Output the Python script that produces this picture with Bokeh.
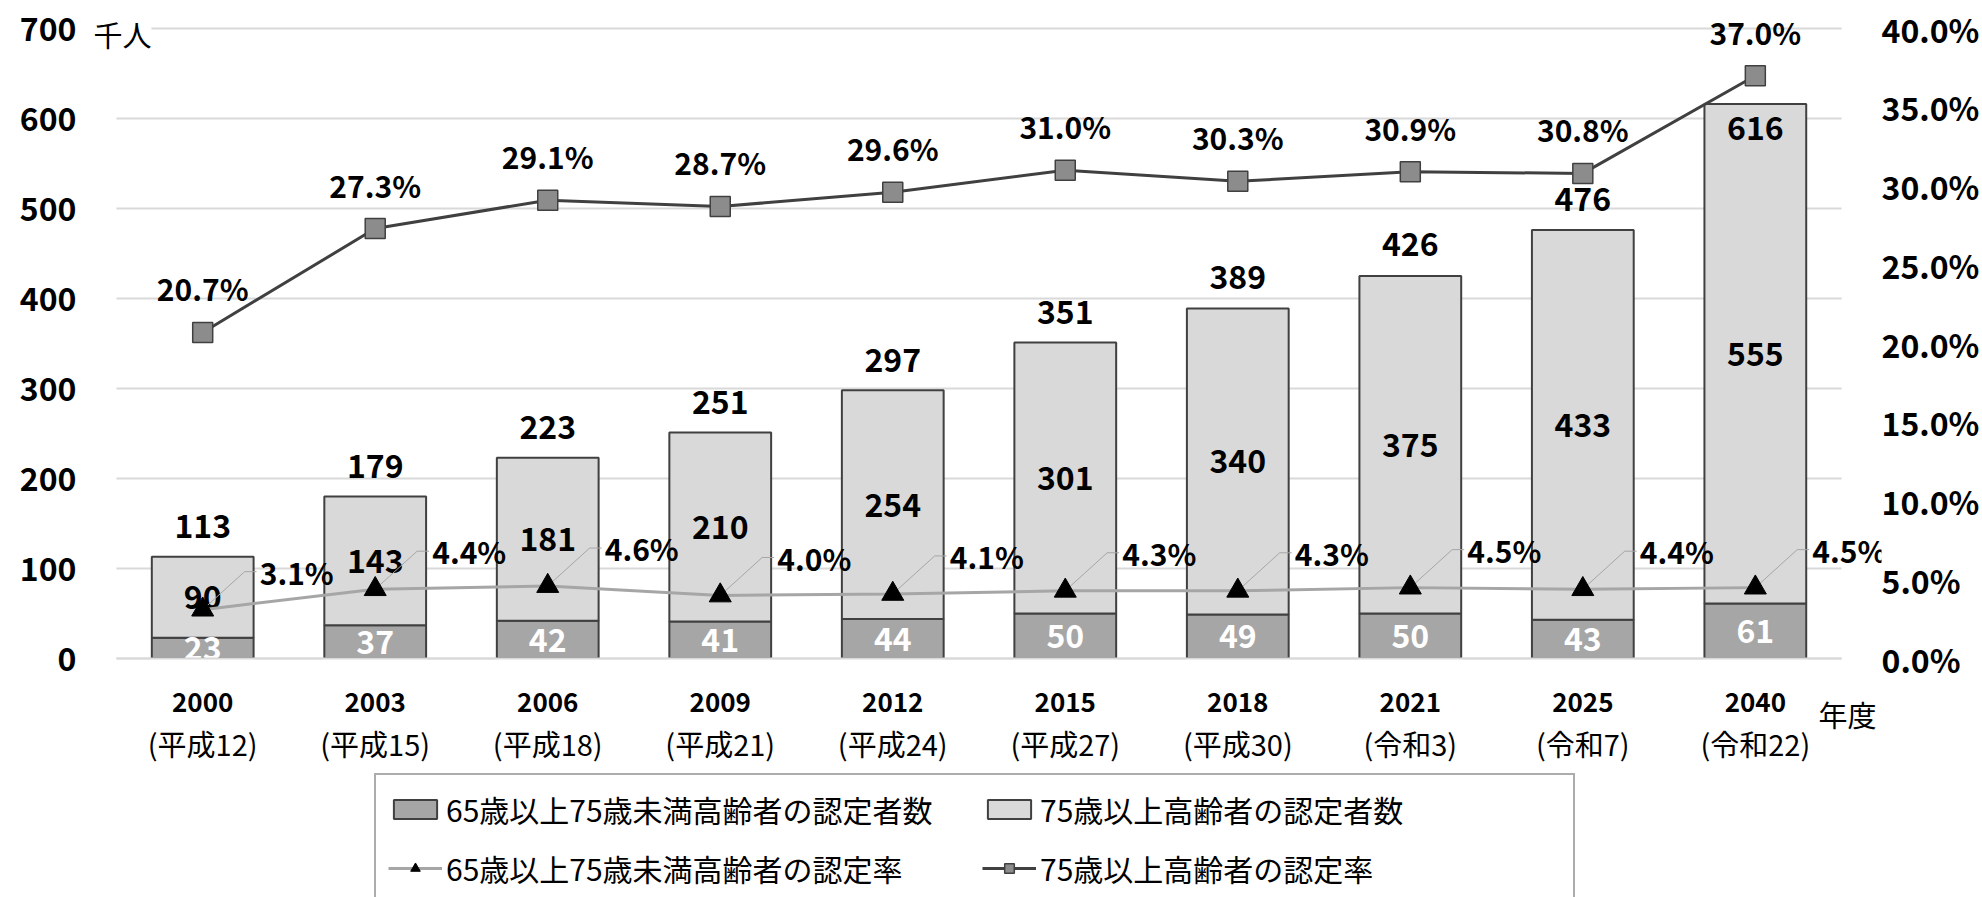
from bokeh.plotting import figure
from bokeh.models import (Range1d, LinearAxis, FixedTicker, PrintfTickFormatter, ColumnDataSource,
                          LabelSet, Label, Legend, LegendItem)
from bokeh.core.properties import value
from bokeh.embed import file_html
from bokeh.resources import INLINE

# ---------------- data ----------------
years = ["2000", "2003", "2006", "2009", "2012", "2015", "2018", "2021", "2025", "2040"]
eras = ["(平成12)", "(平成15)", "(平成18)", "(平成21)", "(平成24)", "(平成27)", "(平成30)",
        "(令和3)", "(令和7)", "(令和22)"]
young_counts = [23, 37, 42, 41, 44, 50, 49, 50, 43, 61]          # 65-74歳 認定者数 (千人)
old_counts = [90, 143, 181, 210, 254, 301, 340, 375, 433, 555]    # 75歳以上 認定者数 (千人)
total_counts = [113, 179, 223, 251, 297, 351, 389, 426, 476, 616]
young_rate = [3.1, 4.4, 4.6, 4.0, 4.1, 4.3, 4.3, 4.5, 4.4, 4.5]   # %
old_rate = [20.7, 27.3, 29.1, 28.7, 29.6, 31.0, 30.3, 30.9, 30.8, 37.0]  # %
series_names = ["65歳以上75歳未満高齢者の認定者数", "75歳以上高齢者の認定者数",
                "65歳以上75歳未満高齢者の認定率", "75歳以上高齢者の認定率"]
left_ticks = [0, 100, 200, 300, 400, 500, 600, 700]
right_ticks = [0, 5, 10, 15, 20, 25, 30, 35, 40]
unit_left = "千人"
unit_x = "年度"
Y_MAX, PCT_MAX = 700, 40

# ---------------- layout (pixels) ----------------
W, H = 1982, 897
FRAME_L, FRAME_R = 90, 1885           # drawing frame (whole height)
PLOT_L, PLOT_R = 116, 1845            # category area
PLOT_T, PLOT_B = 28, 658              # y = 700 / y = 0
FONT = "Noto Sans CJK JP"
TOTAL_OFF = 31                        # total label above bar top (px)
RATE_OFF = 44                         # rate label above marker (px)

n = len(years)
xs = list(range(n))
ppx = (PLOT_R - PLOT_L) / n
ppy = (PLOT_B - PLOT_T) / Y_MAX
k = PCT_MAX / Y_MAX

x_lo = -0.5 - (PLOT_L - FRAME_L) / ppx
x_hi = n - 0.5 + (FRAME_R - PLOT_R) / ppx
y_lo = -(H - PLOT_B) / ppy
y_hi = Y_MAX + PLOT_T / ppy

# total label goes inside the bar top when it would collide with the rate marker
total_off = []
for t, r in zip(total_counts, old_rate):
    label_px = t * ppy + TOTAL_OFF
    marker_px = r / k * ppy
    total_off.append(-24 if abs(label_px - marker_px) < 20 else TOTAL_OFF)

src = ColumnDataSource(dict(
    x=xs,
    year=years,
    era=eras,
    young=young_counts,
    old_top=[a + b for a, b in zip(young_counts, old_counts)],
    young_mid=[a / 2 for a in young_counts],
    old_mid=[a + b / 2 for a, b in zip(young_counts, old_counts)],
    total=total_counts,
    total_off=total_off,
    young_txt=[str(v) for v in young_counts],
    old_txt=[str(v) for v in old_counts],
    total_txt=[str(v) for v in total_counts],
    yr=young_rate,
    orr=old_rate,
    yr_txt=[f"{v:.1f}%" for v in young_rate],
    or_txt=[f"{v:.1f}%" for v in old_rate],
    zero=[0] * n,
))

p = figure(width=W, height=H, output_backend="svg", toolbar_location=None,
           x_range=Range1d(x_lo, x_hi), y_range=Range1d(y_lo, y_hi),
           x_axis_location=None, y_axis_location="left",
           min_border_left=FRAME_L, min_border_right=W - FRAME_R,
           min_border_top=0, min_border_bottom=0)
p.extra_y_ranges = {"pct": Range1d(y_lo * k, y_hi * k)}
p.outline_line_color = None
p.background_fill_color = "white"
p.border_fill_color = "white"
p.xgrid.visible = False
p.ygrid.visible = False

# y axes
ya = p.yaxis[0]
ya.ticker = FixedTicker(ticks=left_ticks)
ya.axis_line_color = None
ya.major_tick_line_color = None
ya.minor_tick_line_color = None
ya.major_tick_out = 0
ya.major_tick_in = 0
ya.major_label_text_font = FONT
ya.major_label_text_font_style = "bold"
ya.major_label_text_font_size = "32px"
ya.major_label_text_color = "black"
ya.major_label_standoff = 14

ra = LinearAxis(y_range_name="pct", ticker=FixedTicker(ticks=right_ticks),
                formatter=PrintfTickFormatter(format="%.1f%%"))
ra.axis_line_color = None
ra.major_tick_line_color = None
ra.minor_tick_line_color = None
ra.major_tick_out = 0
ra.major_tick_in = 0
ra.major_label_text_font = FONT
ra.major_label_text_font_style = "bold"
ra.major_label_text_font_size = "32px"
ra.major_label_text_color = "black"
ra.major_label_standoff = 0
p.add_layout(ra, "right")

# horizontal gridlines across the category area
p.segment(x0=[-0.5] * len(left_ticks), x1=[n - 0.5] * len(left_ticks), y0=left_ticks, y1=left_ticks,
          line_color="#d9d9d9", line_width=2)

# bars
BAR_W = 0.59
b_young = p.vbar(x="x", bottom=0, top="young", width=BAR_W, source=src,
                 fill_color="#a6a6a6", line_color="#404040", line_width=2)
b_old = p.vbar(x="x", bottom="young", top="old_top", width=BAR_W, source=src,
               fill_color="#d9d9d9", line_color="#404040", line_width=2)

# values inside the bars
p.text(x="x", y="young_mid", text="young_txt", source=src, text_align="center", text_baseline="middle",
       text_font=value(FONT), text_font_style="bold", text_font_size="32px", text_color="white")
p.text(x="x", y="old_mid", text="old_txt", source=src, text_align="center", text_baseline="middle",
       text_font=value(FONT), text_font_style="bold", text_font_size="32px", text_color="black")
# cover the part of the white labels that falls below the baseline
p.vbar(x="x", bottom=y_lo, top=0, width=BAR_W + 0.02, source=src,
       fill_color="white", line_color=None)
p.segment(x0=[-0.5], x1=[n - 0.5], y0=[0], y1=[0], line_color="#d9d9d9", line_width=2)

# leader lines for young-rate labels (pixel offsets converted to data units)
ux = 1 / ppx
uy = k / ppy
lead_xs = [[i, i + 42 * ux, i + 54 * ux] for i in xs]
lead_ys = [[r, r + 38 * uy, r + 38 * uy] for r in young_rate]
p.multi_line(xs=lead_xs, ys=lead_ys, y_range_name="pct", line_color="#a6a6a6", line_width=1)

# lines
l_young = p.line(x="x", y="yr", source=src, y_range_name="pct", line_color="#a6a6a6", line_width=3)
m_young = p.scatter(x="x", y="yr", source=src, y_range_name="pct", marker="triangle", size=22,
                    fill_color="black", line_color="black")
l_old = p.line(x="x", y="orr", source=src, y_range_name="pct", line_color="#404040", line_width=3)
m_old = p.scatter(x="x", y="orr", source=src, y_range_name="pct", marker="square", size=20,
                  fill_color="#8c8c8c", line_color="#404040", line_width=1.5)

# totals above bars
p.add_layout(LabelSet(x="x", y="total", text="total_txt", source=src, y_offset="total_off",
                      text_align="center", text_baseline="middle", text_font=value(FONT),
                      text_font_style="bold", text_font_size="32px", text_color="black"))
# old rate labels
p.add_layout(LabelSet(x="x", y="orr", text="or_txt", source=src, y_range_name="pct", y_offset=RATE_OFF,
                      text_align="center", text_baseline="middle", text_font=value(FONT),
                      text_font_style="bold", text_font_size="30px", text_color="black"))
# young rate labels
p.add_layout(LabelSet(x="x", y="yr", text="yr_txt", source=src, y_range_name="pct",
                      x_offset=57, y_offset=38,
                      text_align="left", text_baseline="middle", text_font=value(FONT),
                      text_font_style="bold", text_font_size="30px", text_color="black"))
# category labels (year / era)
p.add_layout(LabelSet(x="x", y="zero", text="year", source=src, y_offset=-44,
                      text_align="center", text_baseline="middle", text_font=value(FONT),
                      text_font_style="bold", text_font_size="26px", text_color="black"))
p.add_layout(LabelSet(x="x", y="zero", text="era", source=src, y_offset=-84,
                      text_align="center", text_baseline="middle", text_font=value(FONT),
                      text_font_size="29px", text_color="black"))

p.add_layout(Label(x=n - 0.5, y=0, text=unit_x, x_offset=6, y_offset=-55,
                   text_align="center", text_baseline="middle", text_font=FONT,
                   text_font_size="29px", text_color="black"))
p.add_layout(Label(x=-0.5, y=Y_MAX, text=unit_left, x_offset=-23, y_offset=-5,
                   text_align="left", text_baseline="middle", text_font=FONT,
                   text_font_size="29px", text_color="black",
                   background_fill_color="white"))

# legend
legend = Legend(items=[
    LegendItem(label=series_names[0], renderers=[b_young]),
    LegendItem(label=series_names[1], renderers=[b_old]),
    LegendItem(label=series_names[2], renderers=[l_young, m_young]),
    LegendItem(label=series_names[3], renderers=[l_old, m_old]),
], orientation="horizontal", ncols=2, location=(284, -7))
legend.border_line_color = "#595959"
legend.border_line_width = 2
legend.background_fill_color = "white"
legend.background_fill_alpha = 1
legend.label_text_font = FONT
legend.label_text_font_size = "30px"
legend.label_text_color = "black"
legend.glyph_width = 54
legend.glyph_height = 24
legend.label_standoff = 4
legend.label_width = 521
legend.spacing = 15
legend.padding = 12
legend.margin = 0
p.add_layout(legend)

open("out.html", "w").write(file_html(p, INLINE))
